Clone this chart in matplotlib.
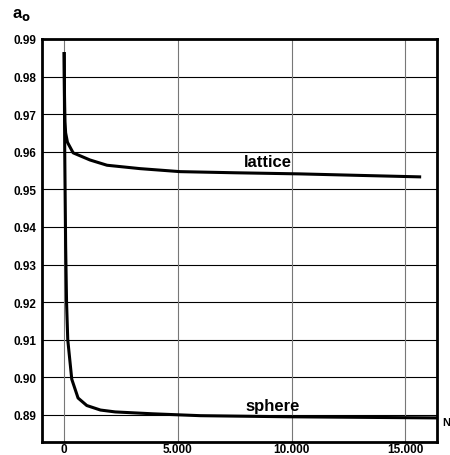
import matplotlib
matplotlib.use('Agg')
import matplotlib.pyplot as plt
import numpy as np

plt.rcParams['font.family'] = 'Liberation Sans'
plt.rcParams['font.weight'] = 'bold'

# values
n_lattice = [5, 20, 40, 70, 150, 400, 1140, 1890, 3340, 5100, 7500, 10380, 13000, 15700]
a_lattice = [0.9865, 0.975, 0.968, 0.9650, 0.9625, 0.9597, 0.9578, 0.9564, 0.9555, 0.9547, 0.9544, 0.9541, 0.9537, 0.9533]

n_sphere = [5, 30, 70, 110, 163, 339, 616, 1000, 1600, 2250, 3900, 6000, 10000, 16500]
a_sphere = [0.9865, 0.96, 0.935, 0.92, 0.910, 0.8995, 0.8945, 0.8925, 0.8913, 0.8908, 0.8903, 0.8898, 0.8895, 0.8892]

yticks = [0.89, 0.90, 0.91, 0.92, 0.93, 0.94, 0.95, 0.96, 0.97, 0.98, 0.99]
xticks = [0, 5000, 10000, 15000]
xlabels = ['0', '5.000', '10.000', '15.000']

fig = plt.figure(figsize=(4.5, 4.56), dpi=100)
ax = fig.add_axes([0.0933, 0.0285, 0.878, 0.884])

ax.plot(n_lattice, a_lattice, color='black', lw=2.2, solid_capstyle='butt')
ax.plot(n_sphere, a_sphere, color='black', lw=2.2, solid_capstyle='butt')

ax.set_xlim(-970, 16400)
ax.set_ylim(0.8828, 0.99)
ax.set_yticks(yticks)
ax.set_yticklabels(['%.2f' % v for v in yticks])
ax.set_xticks(xticks)
ax.set_xticklabels(xlabels)
ax.tick_params(length=0, labelsize=8.5, pad=4)
ax.tick_params(axis='x', pad=1)

for v in yticks:
    ax.axhline(v, color='black', lw=0.8, zorder=0)
for v in xticks:
    ax.axvline(v, color='#777777', lw=0.8, zorder=0)

for s in ax.spines.values():
    s.set_linewidth(2)

ax.text(8970, 0.9573, 'lattice', ha='center', va='center', fontsize=12, fontweight='bold')
ax.text(9150, 0.8924, 'sphere', ha='center', va='center', fontsize=12, fontweight='bold')

fig.text(0.027, 0.968, r'a$_\mathbf{o}$', fontsize=12, fontweight='bold', ha='left', va='center')
fig.text(0.983, 0.072, 'N', fontsize=8, fontweight='bold', ha='left', va='center')

fig.savefig('out.png', dpi=100)
